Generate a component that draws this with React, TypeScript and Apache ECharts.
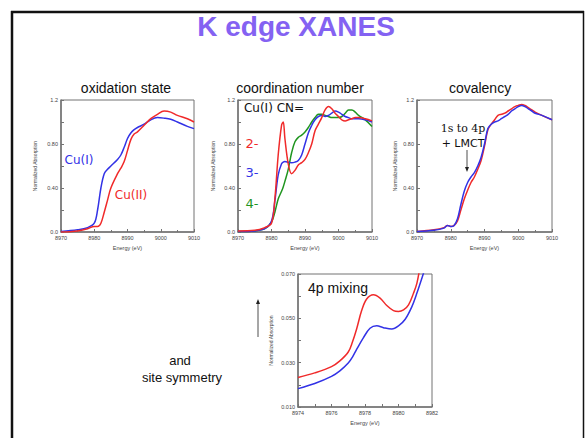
import React, { useEffect, useRef } from "react";
import * as echarts from "echarts";

// ---- oxidation state: Cu(I) vs Cu(II) ----
const oxEnergy = [8970, 8975, 8978, 8980, 8981, 8982, 8983, 8984, 8985, 8987, 8988, 8989, 8990, 8991, 8992, 8993, 8995, 8997, 8999, 9001, 9003, 9005, 9008, 9010];
const oxCuI = [0.005, 0.02, 0.04, 0.08, 0.2, 0.4, 0.53, 0.57, 0.6, 0.66, 0.7, 0.77, 0.85, 0.9, 0.93, 0.95, 0.98, 1.02, 1.04, 1.035, 1.025, 1.0, 0.96, 0.94];
const oxCuII = [0.0, 0.01, 0.03, 0.05, 0.05, 0.08, 0.18, 0.29, 0.4, 0.53, 0.58, 0.64, 0.74, 0.84, 0.89, 0.91, 0.97, 1.03, 1.07, 1.1, 1.09, 1.06, 1.03, 1.0];

// ---- coordination number: Cu(I) CN = 2, 3, 4 ----
const cnEnergy = [8970, 8975, 8978, 8980, 8981, 8982, 8983, 8983.5, 8984, 8985, 8986, 8987, 8988, 8989, 8990, 8991, 8992, 8993, 8994, 8995, 8996, 8997, 8998, 8999, 9000, 9001, 9002, 9003, 9004, 9005, 9006, 9008, 9010];
const cn2 = [0.01, 0.015, 0.04, 0.08, 0.3, 0.7, 0.97, 1.0, 0.85, 0.62, 0.53, 0.56, 0.61, 0.63, 0.66, 0.72, 0.8, 0.92, 0.98, 1.04, 1.11, 1.14, 1.12, 1.08, 1.05, 1.02, 1.01, 1.02, 1.03, 1.04, 1.04, 1.03, 1.01];
const cn3 = [0.005, 0.01, 0.03, 0.1, 0.28, 0.52, 0.62, 0.635, 0.64, 0.635, 0.63, 0.635, 0.65, 0.7, 0.8, 0.9, 0.97, 1.02, 1.05, 1.06, 1.05, 1.06, 1.08, 1.1, 1.09, 1.07, 1.05, 1.04, 1.03, 1.03, 1.03, 1.02, 1.0];
const cn4 = [0.005, 0.01, 0.03, 0.09, 0.18, 0.3, 0.37, 0.41, 0.46, 0.57, 0.72, 0.82, 0.86, 0.88, 0.91, 0.95, 1.0, 1.04, 1.07, 1.07, 1.06, 1.05, 1.04, 1.04, 1.04, 1.05, 1.08, 1.11, 1.11, 1.09, 1.06, 1.02, 0.96];

// ---- covalency ----
const covEnergy = [8970, 8975, 8978, 8979, 8980, 8981, 8982, 8983, 8984, 8985, 8986, 8987, 8988, 8989, 8990, 8991, 8992, 8993, 8994, 8995, 8996, 8997, 8998, 8999, 9000, 9001, 9002, 9003, 9004, 9005, 9007, 9010];
const covRed = [0.005, 0.02, 0.04, 0.06, 0.05, 0.06, 0.1, 0.2, 0.3, 0.38, 0.45, 0.5, 0.57, 0.65, 0.78, 0.93, 0.98, 1.02, 1.06, 1.07, 1.08, 1.1, 1.12, 1.14, 1.15, 1.16, 1.15, 1.13, 1.11, 1.09, 1.06, 1.02];
const covBlue = [0.005, 0.015, 0.035, 0.06, 0.05, 0.06, 0.12, 0.25, 0.37, 0.45, 0.5, 0.54, 0.6, 0.68, 0.8, 0.94, 0.98, 1.0, 1.01, 1.03, 1.05, 1.07, 1.1, 1.12, 1.14, 1.15, 1.14, 1.12, 1.1, 1.08, 1.06, 1.02];

// ---- pre-edge, 4p mixing ----
const mixRedEnergy = [8974, 8975, 8976, 8976.5, 8977, 8977.25, 8977.5, 8977.8, 8978.1, 8978.5, 8978.9, 8979.3, 8979.7, 8980, 8980.3, 8980.6, 8980.9, 8981.1, 8981.3];
const mixRed = [0.0233, 0.0254, 0.0282, 0.0308, 0.0348, 0.0393, 0.0452, 0.0535, 0.0587, 0.0606, 0.0591, 0.0558, 0.0535, 0.0531, 0.0538, 0.0561, 0.0614, 0.0659, 0.074];
const mixBlueEnergy = [8974, 8975, 8976, 8976.5, 8977, 8977.25, 8977.5, 8977.9, 8978.3, 8978.7, 8979.1, 8979.6, 8980, 8980.4, 8980.8, 8981.1, 8981.4, 8981.6];
const mixBlue = [0.0183, 0.0206, 0.0238, 0.0263, 0.0298, 0.0325, 0.036, 0.0412, 0.0455, 0.0466, 0.0458, 0.0452, 0.0466, 0.0496, 0.0553, 0.0614, 0.0682, 0.073];

const FONT = "'Liberation Sans', Arial, sans-serif";
const HAND = "'DejaVu Sans', sans-serif";
const AXIS = "#737373";
const LABEL = "#444";
const RED = "#f02a2a";
const BLUE = "#3232e6";
const GREEN = "#1f951f";

const pairs = (xs: number[], ys: number[]) => xs.map((x, i) => [x, ys[i]]);

const grids = [
  { left: 61, top: 100, width: 133, height: 132 },
  { left: 238, top: 100, width: 134, height: 132 },
  { left: 417, top: 100, width: 135, height: 132 },
  { left: 298, top: 274, width: 134, height: 133 },
];

function xAxis(gridIndex: number, min: number, max: number, interval: number, minorSplit: number, formatter: (v: number) => string) {
  return {
    type: "value",
    gridIndex,
    min,
    max,
    interval,
    name: "Energy (eV)",
    nameLocation: "middle",
    nameGap: 13,
    nameTextStyle: { fontSize: 5.5, color: LABEL, fontFamily: FONT },
    axisLine: { show: true, onZero: false, lineStyle: { color: AXIS, width: 1.5 } },
    axisTick: { show: true, inside: true, length: 3, lineStyle: { color: AXIS } },
    minorTick: { show: minorSplit > 1, splitNumber: minorSplit, length: 2, lineStyle: { color: AXIS } },
    axisLabel: { fontSize: 5.5, color: LABEL, margin: 3, fontFamily: FONT, formatter, showMinLabel: true, showMaxLabel: true },
    splitLine: { show: false },
  };
}

function yAxis(gridIndex: number, min: number, max: number, interval: number, nameGap: number, formatter: (v: number) => string) {
  return {
    type: "value",
    gridIndex,
    min,
    max,
    interval,
    name: "Normalized Absorption",
    nameLocation: "middle",
    nameGap,
    nameTextStyle: { fontSize: 5, color: LABEL, fontFamily: FONT },
    axisLine: { show: true, onZero: false, lineStyle: { color: AXIS, width: 1.5 } },
    axisTick: { show: true, inside: true, length: 3, lineStyle: { color: AXIS } },
    axisLabel: { fontSize: 5.5, color: LABEL, margin: 3, fontFamily: FONT, formatter, showMinLabel: true, showMaxLabel: true },
    splitLine: { show: false },
  };
}

const mainYFmt = (v: number) => {
  const k = Math.round(v * 10);
  if (k === 0) return "0.0";
  if (k === 4) return "0.40";
  if (k === 8) return "0.80";
  if (k === 12) return "1.2";
  return "";
};
const mainXFmt = (v: number) => String(Math.round(v));
const mixYFmt = (v: number) => (Math.round(v * 1000) % 20 === 10 ? v.toFixed(3) : "");
const mixXFmt = (v: number) => (Math.round(v) % 2 === 0 ? String(Math.round(v)) : "");

function curve(axis: number, xs: number[], ys: number[], color: string) {
  return {
    type: "line",
    xAxisIndex: axis,
    yAxisIndex: axis,
    data: pairs(xs, ys),
    smooth: 0.35,
    showSymbol: false,
    clip: true,
    lineStyle: { color, width: 1.5 },
    itemStyle: { color },
  };
}

function label(text: string, x: number, y: number, fill: string, fontSize: number, extra: Record<string, unknown> = {}) {
  return {
    type: "text",
    x,
    y,
    z: 10,
    style: { text, fill, fontSize, fontFamily: FONT, align: "center", verticalAlign: "middle", ...extra },
  };
}

function arrow(x: number, y1: number, y2: number) {
  // shaft from y1 to y2, head at y2
  const dir = y2 > y1 ? 1 : -1;
  return [
    { type: "line", z: 10, shape: { x1: x, y1, x2: x, y2: y2 - dir * 4 }, style: { stroke: "#222", lineWidth: 0.8 } },
    { type: "polygon", z: 10, shape: { points: [[x - 2, y2 - dir * 5], [x + 2, y2 - dir * 5], [x, y2]] }, style: { fill: "#222" } },
  ];
}

const option = {
  animation: false,
  backgroundColor: "#ffffff",
  grid: grids.map((g) => ({ ...g, show: true, borderColor: AXIS, borderWidth: 1, backgroundColor: "transparent" })),
  xAxis: [
    xAxis(0, 8970, 9010, 10, 2, mainXFmt),
    xAxis(1, 8970, 9010, 10, 2, mainXFmt),
    xAxis(2, 8970, 9010, 10, 2, mainXFmt),
    xAxis(3, 8974, 8982, 1, 0, mixXFmt),
  ],
  yAxis: [
    yAxis(0, 0, 1.2, 0.2, 24, mainYFmt),
    yAxis(1, 0, 1.2, 0.2, 23, mainYFmt),
    yAxis(2, 0, 1.2, 0.2, 20, mainYFmt),
    yAxis(3, 0.01, 0.07, 0.01, 25, mixYFmt),
  ],
  series: [
    curve(0, oxEnergy, oxCuI, BLUE),
    curve(0, oxEnergy, oxCuII, RED),
    curve(1, cnEnergy, cn4, GREEN),
    curve(1, cnEnergy, cn3, BLUE),
    curve(1, cnEnergy, cn2, RED),
    curve(2, covEnergy, covRed, RED),
    curve(2, covEnergy, covBlue, BLUE),
    curve(3, mixRedEnergy, mixRed, RED),
    curve(3, mixBlueEnergy, mixBlue, BLUE),
  ],
  graphic: [
    // slide frame
    { type: "line", shape: { x1: 12, y1: 11, x2: 12, y2: 438 }, style: { stroke: "#111", lineWidth: 2.5 } },
    { type: "line", shape: { x1: 11, y1: 12, x2: 584, y2: 12 }, style: { stroke: "#111", lineWidth: 2.5 } },
    { type: "line", shape: { x1: 583.5, y1: 11, x2: 583.5, y2: 438 }, style: { stroke: "#111", lineWidth: 1.5 } },
    label("K edge XANES", 296, 26, "#8462f2", 28, { fontWeight: "bold" }),
    label("oxidation state", 126, 88, "#111", 14),
    label("coordination number", 300, 88, "#111", 14),
    label("covalency", 480, 88, "#111", 14),
    label("Cu(I)", 79, 160, BLUE, 12, { fontFamily: HAND }),
    label("Cu(II)", 131, 195, RED, 12, { fontFamily: HAND }),
    label("Cu(I) CN=", 274, 108, "#111", 12, { fontFamily: HAND }),
    label("2-", 252, 143, RED, 13, { fontFamily: HAND }),
    label("3-", 252, 172, BLUE, 13, { fontFamily: HAND }),
    label("4-", 252, 203, GREEN, 13, { fontFamily: HAND }),
    label("1s to 4p", 463, 128, "#111", 11, { fontFamily: "'DejaVu Serif', serif" }),
    label("+ LMCT", 463, 143, "#111", 11, { fontFamily: HAND }),
    ...arrow(467, 150, 172),
    label("4p mixing", 338, 288, "#111", 14),
    ...arrow(258, 337, 299),
    label("and", 180, 360, "#111", 13),
    label("site symmetry", 182, 377, "#111", 13),
  ],
};

export default function App() {
  const ref = useRef<HTMLDivElement>(null);
  useEffect(() => {
    if (!ref.current) return;
    const chart = echarts.init(ref.current, null, { renderer: "svg" });
    chart.setOption(option as any);
    return () => chart.dispose();
  }, []);
  return (
    <div
      ref={ref}
      style={{ position: "fixed", left: 0, top: 0, width: 585, height: 438, background: "#fff" }}
    />
  );
}
